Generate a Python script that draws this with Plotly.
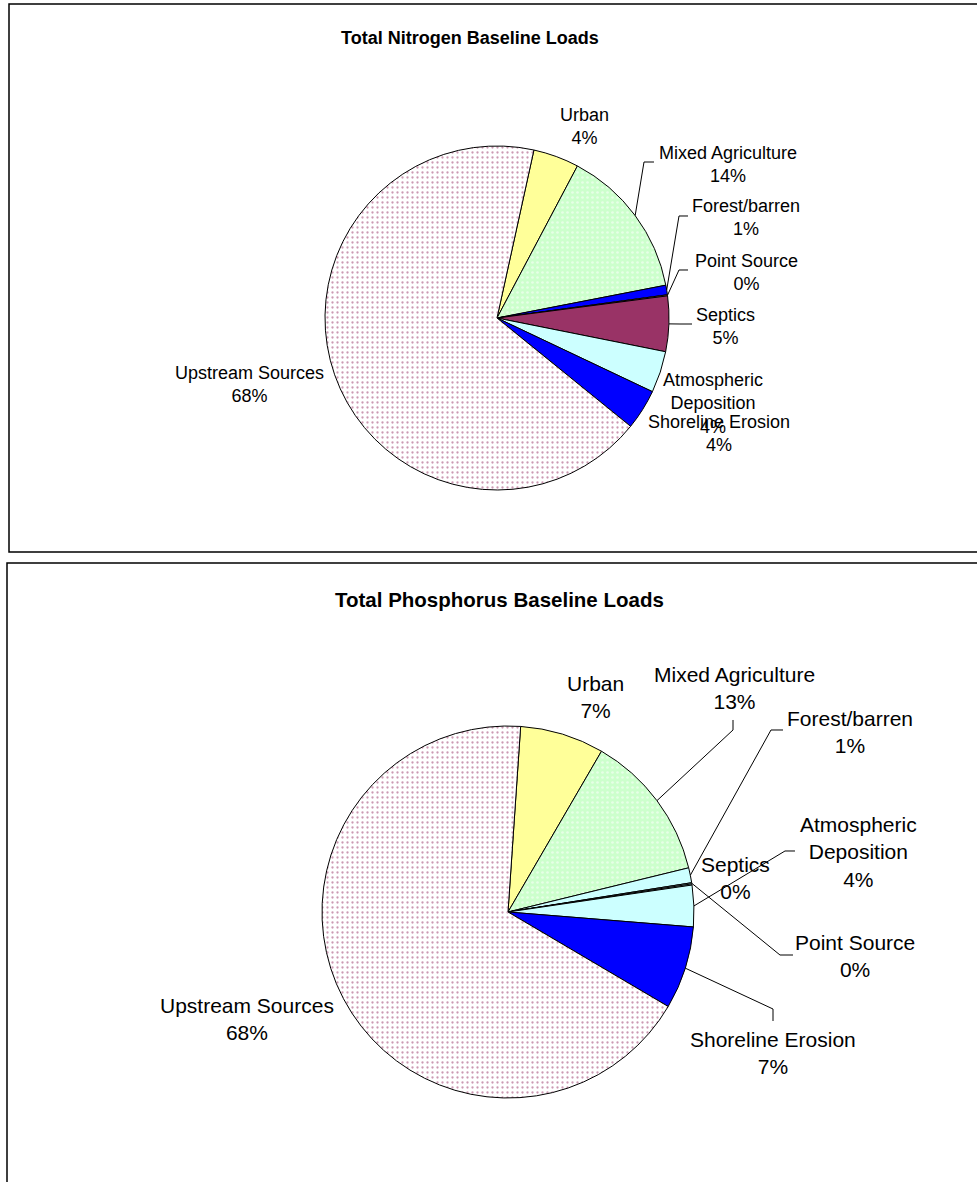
import math
import plotly.graph_objects as go

W, H = 977, 1182

# ---------------- data ----------------
categories = ["Urban", "Mixed Agriculture", "Forest/barren", "Point Source",
              "Septics", "Atmospheric Deposition", "Shoreline Erosion", "Upstream Sources"]

nitrogen_pct = [4.3, 14.2, 0.9, 0.1, 5.2, 3.9, 3.8, 67.6]
phosphorus_pct = [7.3, 12.8, 1.3, 0.1, 0.1, 3.6, 7.2, 67.6]

nitrogen_title = "Total Nitrogen Baseline Loads"
phosphorus_title = "Total Phosphorus Baseline Loads"

nitrogen_colors = ["#FFFF99", "#CCFFCC", "#0000FF", "#FF8080",
                   "#993366", "#CCFFFF", "#0000FF", "#FFFFFF"]
phosphorus_colors = ["#FFFF99", "#CCFFCC", "#CCFFFF", "#CCFFFF",
                     "#CCFFFF", "#CCFFFF", "#0000FF", "#FFFFFF"]


def px(x):
    return x / W


def py(y):
    return 1 - y / H


def pattern_for(colors):
    shapes, fg, size, sol = [], [], [], []
    for cat, col in zip(categories, colors):
        if cat == "Upstream Sources":
            shapes.append("."); fg.append("#993366"); size.append(5); sol.append(0.17)
        elif cat == "Mixed Agriculture":
            shapes.append("."); fg.append("#FFFFFF"); size.append(5); sol.append(0.22)
        else:
            shapes.append(""); fg.append(col); size.append(6); sol.append(0.1)
    return dict(shape=shapes, fgcolor=fg, bgcolor=list(colors), size=size,
                solidity=sol, fillmode="overlay")


# chart layout settings (pixel geometry)
charts = [
    dict(values=nitrogen_pct, colors=nitrogen_colors, title=nitrogen_title,
         cx=497, cy=318, r=172, rot=12.4, font=18, tfont=18, title_xy=(470, 38),
         box=(9, 4, 990, 552),
         labels={  # label block centres
             "Urban": (584, 127), "Mixed Agriculture": (728, 164), "Forest/barren": (746, 218),
             "Point Source": (746, 272), "Septics": (725, 326), "Atmospheric Deposition": (713, 403),
             "Shoreline Erosion": (719, 433), "Upstream Sources": (249, 385)},
         leaders={  # elbow, end
             "Mixed Agriculture": [(644, 162), (654, 162)],
             "Forest/barren": [(679, 216), (688, 216)],
             "Point Source": [(679, 270), (688, 270)],
             "Septics": [(680, 324), (692, 324)]}),
    dict(values=phosphorus_pct, colors=phosphorus_colors, title=phosphorus_title,
         cx=508, cy=912, r=186, rot=3.9, font=21, tfont=20.5, title_xy=(499, 599),
         box=(7, 563, 990, 1200),
         labels={
             "Urban": (595, 697), "Mixed Agriculture": (734, 688), "Forest/barren": (850, 732),
             "Point Source": (855, 956), "Septics": (735, 878), "Atmospheric Deposition": (858, 852),
             "Shoreline Erosion": (773, 1053), "Upstream Sources": (247, 1019)},
         leaders={
             "Mixed Agriculture": [(733, 730), (733, 720)],
             "Forest/barren": [(771, 730), (783, 730)],
             "Atmospheric Deposition": [(785, 851), (795, 851)],
             "Point Source": [(780, 955), (793, 955)],
             "Shoreline Erosion": [(773, 1009), (773, 1021)]}),
]

fig = go.Figure()
annotations = []
shapes = []

for ch in charts:
    cx, cy, r = ch["cx"], ch["cy"], ch["r"]
    vals = ch["values"]
    total = sum(vals)
    fig.add_trace(go.Pie(
        labels=categories, values=vals, sort=False, direction="clockwise",
        rotation=ch["rot"], textinfo="none", showlegend=False,
        domain=dict(x=[px(cx - r), px(cx + r)], y=[py(cy + r), py(cy - r)]),
        marker=dict(colors=ch["colors"], line=dict(color="black", width=1),
                    pattern=pattern_for(ch["colors"])),
    ))
    # box
    x0, y0, x1, y1 = ch["box"]
    shapes.append(dict(type="rect", xref="paper", yref="paper",
                       x0=px(x0), x1=px(x1), y0=py(y1), y1=py(y0),
                       line=dict(color="black", width=1.5), layer="below"))
    # title
    annotations.append(dict(text="<b>%s</b>" % ch["title"], x=px(ch["title_xy"][0]), y=py(ch["title_xy"][1]),
                            xref="paper", yref="paper", showarrow=False, xanchor="center", yanchor="middle",
                            font=dict(size=ch["tfont"], color="black", family="Liberation Sans, Arial")))
    # labels and leader lines
    cum = 0.0
    for cat, v in zip(categories, vals):
        mid = math.radians(ch["rot"] + (cum + v / 2) / total * 360)
        cum += v
        lx, ly = ch["labels"][cat]
        name = cat.replace("Atmospheric ", "Atmospheric<br>")
        txt = "%s<br>%d%%" % (name, int(round(v / total * 100)))
        annotations.append(dict(text=txt, x=px(lx), y=py(ly), xref="paper", yref="paper",
                                showarrow=False, xanchor="center", yanchor="middle", align="center",
                                font=dict(size=ch["font"], color="black", family="Liberation Sans, Arial")))
        if cat in ch["leaders"]:
            sx = cx + r * math.sin(mid)
            sy = cy - r * math.cos(mid)
            (ex, ey), (fx, fy) = ch["leaders"][cat]
            path = "M %f,%f L %f,%f L %f,%f" % (px(sx), py(sy), px(ex), py(ey), px(fx), py(fy))
            shapes.append(dict(type="path", xref="paper", yref="paper", path=path,
                               line=dict(color="black", width=1)))

fig.update_layout(width=W, height=H, autosize=False,
                  margin=dict(l=0, r=0, t=0, b=0),
                  paper_bgcolor="white", plot_bgcolor="white",
                  annotations=annotations, shapes=shapes)

fig.write_html("out.html", config={"displayModeBar": False},
               post_script="document.body.style.margin='0';document.body.style.overflow='hidden';")
